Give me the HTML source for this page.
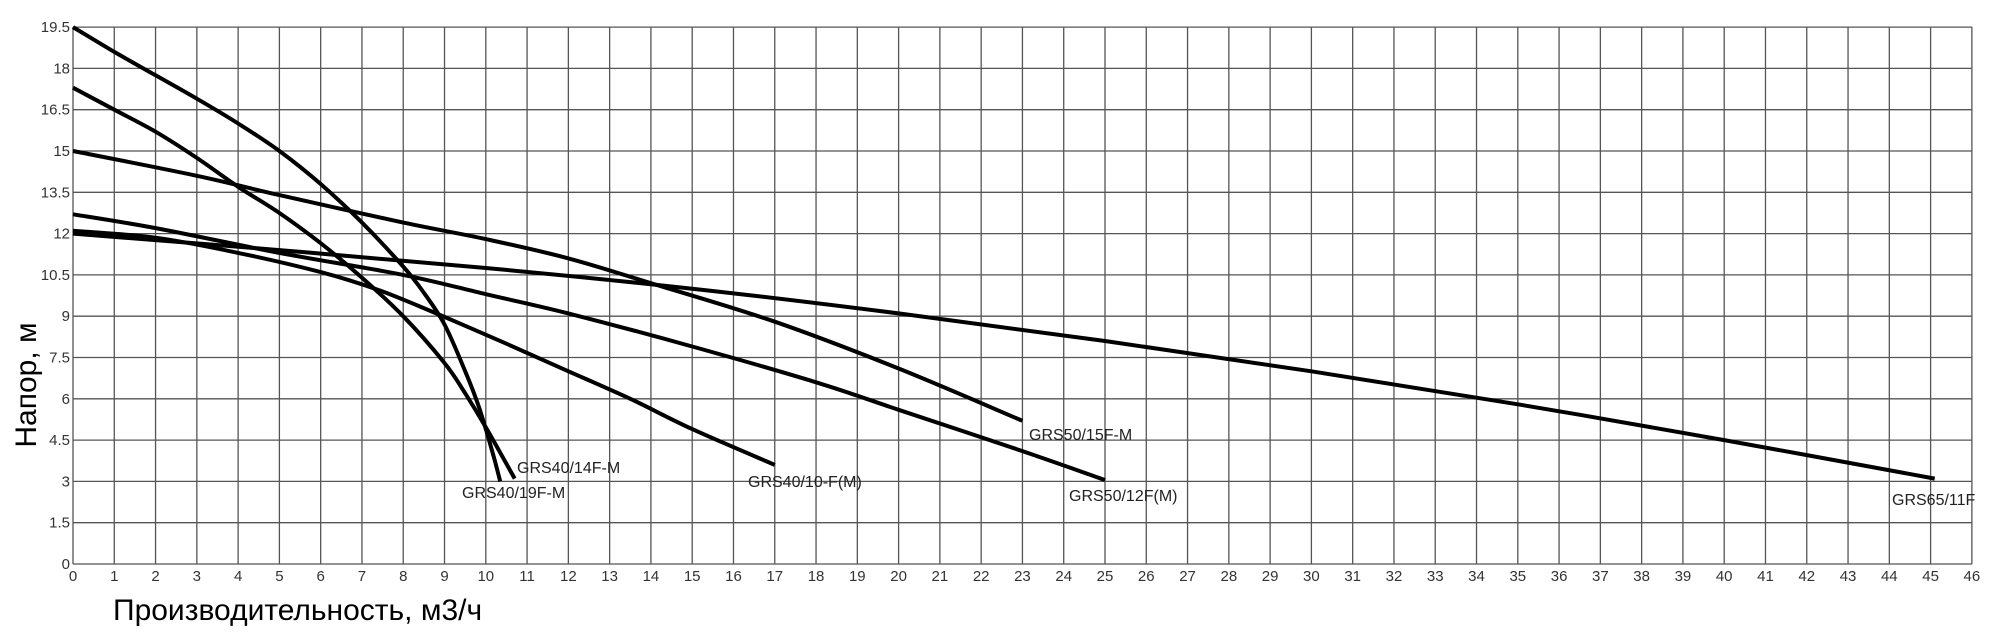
<!DOCTYPE html>
<html><head><meta charset="utf-8"><style>
html,body{margin:0;padding:0;background:#fff;}
svg{display:block;font-family:"Liberation Sans","DejaVu Sans",sans-serif;}
</style></head><body>
<svg width="2000" height="633" viewBox="0 0 2000 633" xmlns="http://www.w3.org/2000/svg">
<g id="grid" stroke="#555" stroke-width="1.3"></g>
<g id="labels" fill="#333" font-size="15"></g>
<g id="curves" fill="none" stroke="#000" stroke-width="4" stroke-linejoin="round"></g>
<g fill="#222" font-size="16">
<text x="517" y="473">GRS40/14F-M</text>
<text x="462" y="498">GRS40/19F-M</text>
<text x="748" y="487">GRS40/10-F(M)</text>
<text x="1029" y="440">GRS50/15F-M</text>
<text x="1069" y="501">GRS50/12F(M)</text>
<text x="1892" y="505">GRS65/11F</text>
</g>
<text x="113" y="620" font-size="30" fill="#000">Производительность, м3/ч</text>
<text transform="translate(36,385) rotate(-90)" text-anchor="middle" font-size="30" fill="#000">Напор, м</text>
</svg>
<script>
var ns="http://www.w3.org/2000/svg",g=document.getElementById("grid"),L=document.getElementById("labels"),C=document.getElementById("curves");
function el(p,t,a){var e=document.createElementNS(ns,t);for(var k in a)e.setAttribute(k,a[k]);p.appendChild(e);return e;}
for(var i=0;i<=46;i++){var x=73+i*41.28;el(g,"line",{x1:x,y1:27,x2:x,y2:564});var t=el(L,"text",{x:x,y:581,"text-anchor":"middle"});t.textContent=i;}
for(var j=0;j<=13;j++){var y=564-j*41.3;el(g,"line",{x1:73,y1:y,x2:1972,y2:y});var t=el(L,"text",{x:70,y:y+5,"text-anchor":"end"});t.textContent=(j*1.5).toString();}
function px(p){return [73+p[0]*41.28,564-p[1]*41.3/1.5];}
function cr(pts){var P=pts.map(px),d="M"+P[0][0].toFixed(1)+","+P[0][1].toFixed(1);
for(var i=0;i < P.length-1;i++){var p0=P[i-1]||P[i],p1=P[i],p2=P[i+1],p3=P[i+2]||p2;
var c1=[p1[0]+(p2[0]-p0[0])/6,p1[1]+(p2[1]-p0[1])/6],c2=[p2[0]-(p3[0]-p1[0])/6,p2[1]-(p3[1]-p1[1])/6];
d+=" C"+c1[0].toFixed(1)+","+c1[1].toFixed(1)+" "+c2[0].toFixed(1)+","+c2[1].toFixed(1)+" "+p2[0].toFixed(1)+","+p2[1].toFixed(1);}
el(C,"path",{d:d});}
cr([[0,12],[5,11.4],[10,10.75],[15,10],[20,9.1],[25,8.1],[30,7.0],[35,5.8],[40,4.5],[45.1,3.1]]);
cr([[0,15],[3,14.1],[5,13.4],[8,12.4],[10,11.8],[12,11.1],[14,10.2],[17,8.8],[20,7.1],[23,5.2]]);
cr([[0,12.7],[2,12.2],[5,11.3],[8,10.5],[10,9.8],[12,9.1],[15,7.9],[18,6.6],[20,5.6],[23,4.1],[25,3.05]]);
cr([[0,12.1],[2,11.85],[4,11.3],[6,10.6],[7.4,9.95],[8.8,9.1],[10.5,8.0],[12,7.0],[13.5,6.0],[15,4.9],[17,3.6]]);
cr([[0,17.3],[1,16.5],[2,15.7],[3,14.75],[4,13.7],[5,12.75],[6,11.65],[7,10.4],[8,9.0],[9,7.3],[9.5,6.2],[10,4.97],[10.7,3.1]]);
cr([[0,19.5],[1,18.6],[2,17.75],[3,16.9],[4,16.0],[5,15.0],[6,13.8],[7,12.4],[8,10.8],[8.5,9.85],[9,8.7],[9.5,7.0],[9.8,5.85],[10,4.9],[10.2,3.85],[10.35,3.0]]);
</script>
</body></html>
